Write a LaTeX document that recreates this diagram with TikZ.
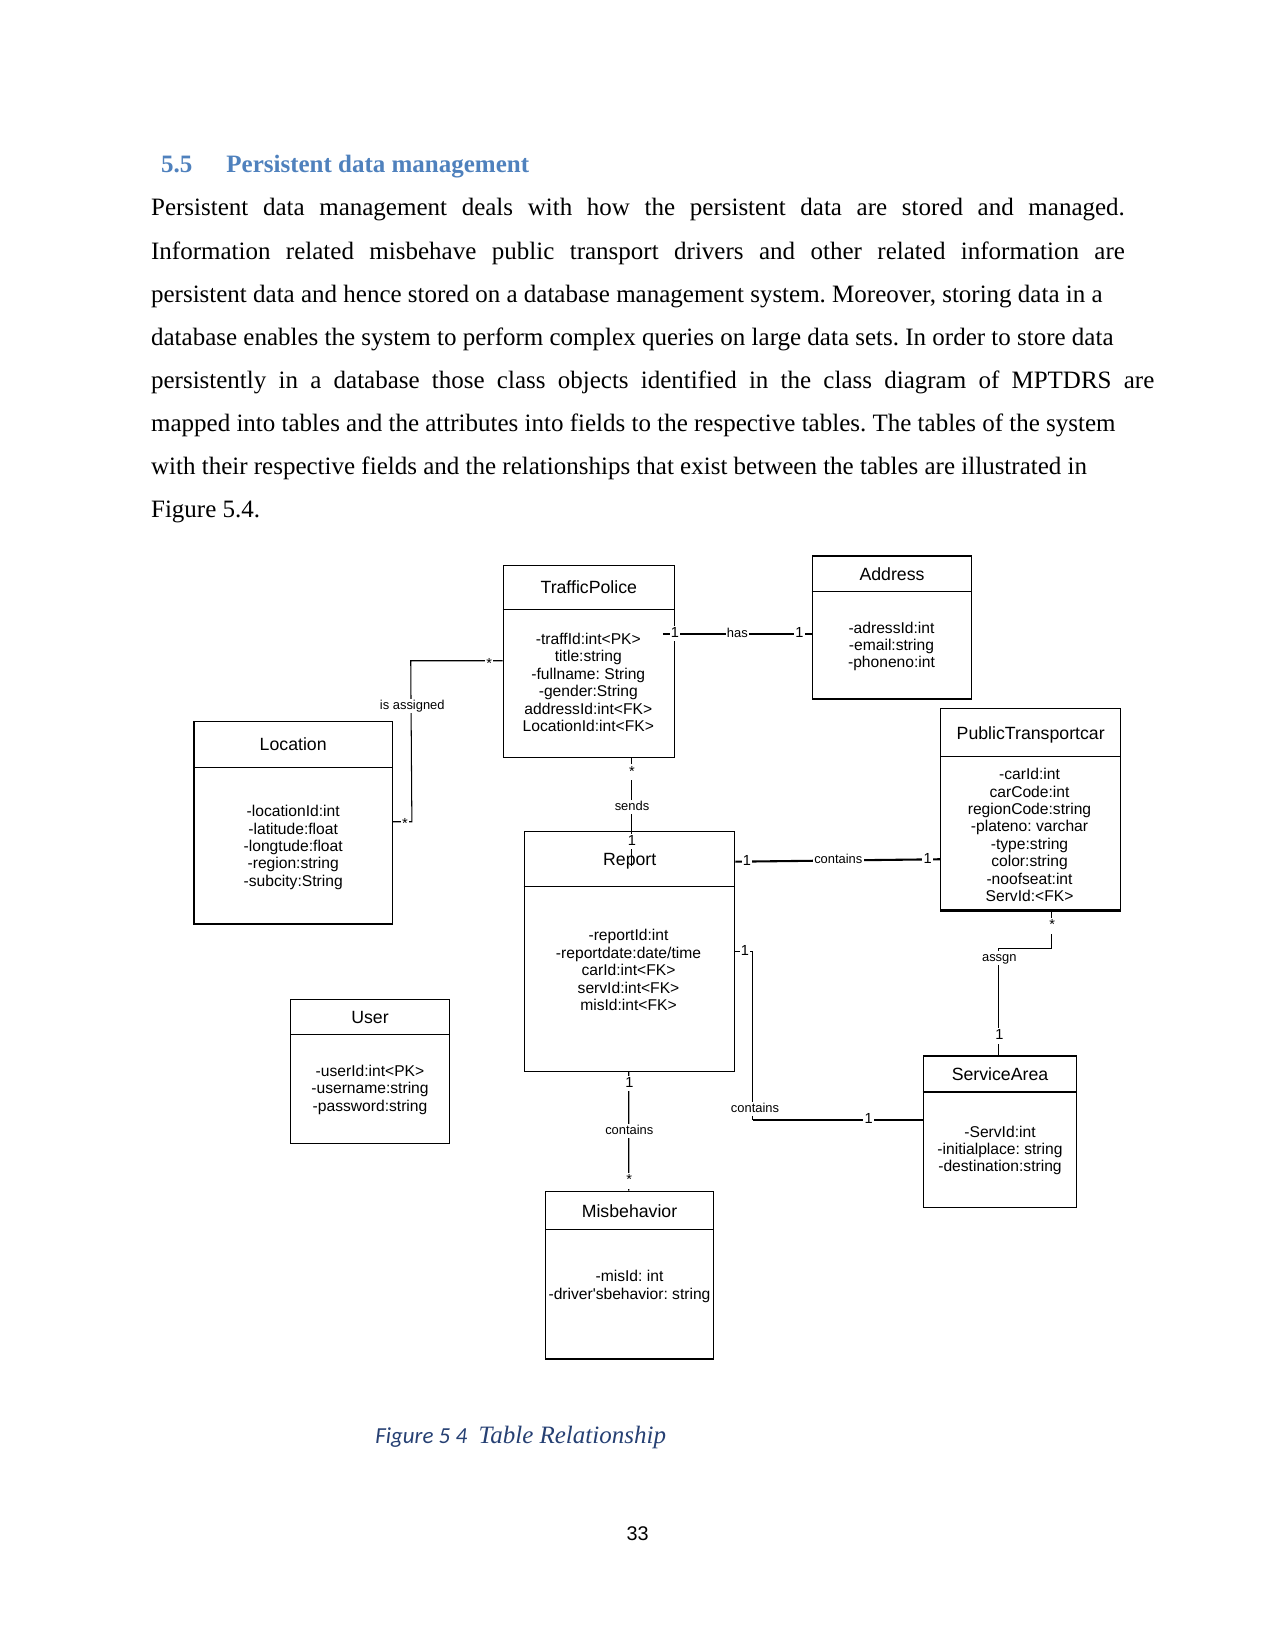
\documentclass[tikz,border=0pt]{standalone}
\usepackage{fontspec}
\setmainfont{Liberation Serif}
\newfontfamily\diag{Liberation Sans}
\newfontfamily\capfont{Carlito}
\usetikzlibrary{calc,fit}
\definecolor{headblue}{RGB}{79,129,189}
\definecolor{capblue}{RGB}{38,64,115}
\frenchspacing
\begin{document}
\begin{tikzpicture}[x=0.48pt,y=-0.48pt,
  cls/.style={draw, line width=0.55pt, inner sep=0pt},
  sep/.style={line width=0.55pt},
  ttl/.style={font=\diag\fontsize{8.5}{10}\selectfont, inner sep=0pt, text height=6.1pt, text depth=0pt},
  attr/.style={font=\diag\fontsize{7.5}{9}\selectfont, inner sep=0pt, text height=5.4pt, text depth=0pt},
  lab/.style={font=\diag\fontsize{6.2}{7}\selectfont, fill=white, inner sep=0.6pt, text height=4.5pt, text depth=1.2pt},
  mult/.style={lab, font=\diag\fontsize{7}{8}\selectfont, text height=5pt},
  star/.style={mult, yshift=-2pt},
  conn/.style={line width=0.5pt},
  connb/.style={line width=1pt},
  body/.style={font=\frenchspacing\fontsize{12}{14}\selectfont, inner sep=0pt, anchor=base west},
  head/.style={font=\bfseries\fontsize{12}{14}\selectfont, text=headblue, inner sep=0pt, anchor=base west}
]
\fill[white] (0,0) rectangle (1275,1651);
\useasboundingbox (0,0) rectangle (1275,1651);

% ---------- text ----------
\node[head] (h1) at (160.7,172.7) {5.5};
\node[head] (h2) at (226,172.7) {Persistent data management};

\node[body] (p1) at (150.7,216) {\makebox[467.4pt][s]{Persistent data management deals with how the persistent data are stored and managed.}};
\node[body] (p2) at (150.7,259.1) {\makebox[467.4pt][s]{Information related misbehave public transport drivers and other related information are}};
\node[body] (p3) at (150.7,302.2) {persistent data and hence stored on a database management system. Moreover, storing data in a};
\node[body] (p4) at (150.7,345.3) {database enables the system to perform complex queries on large data sets. In order to store data};
\node[body] (p5) at (150.7,388.4) {\makebox[481.5pt][s]{persistently in a database those class objects identified in the class diagram of MPTDRS are}};
\node[body] (p6) at (150.7,431.5) {mapped into tables and the attributes into fields to the respective tables. The tables of the system};
\node[body] (p7) at (150.7,474.6) {with their respective fields and the relationships that exist between the tables are illustrated in};
\node[body] (p8) at (150.7,517.7) {Figure 5.4.};

% ---------- class boxes ----------
\node[cls, fit={(194,721.7) (392.3,924)}] (loc) {};
\node[cls, fit={(503.3,565.3) (674.3,757.3)}] (tp) {};
\node[cls, fit={(812.3,556) (971.7,699)}] (addr) {};
\node[cls, fit={(940.7,708.3) (1120.7,910)}] (ptc) {};
\node[cls, fit={(524.3,831.3) (734.7,1071.3)}] (rep) {};
\node[cls, fit={(290.7,999.3) (449.3,1143.3)}] (usr) {};
\node[cls, fit={(545.7,1191.3) (713.3,1359)}] (mis) {};
\node[cls, fit={(923.3,1056) (1076.7,1207.3)}] (sa) {};

\draw[sep] ($(loc.north west)+(0,46.6)$) -- ($(loc.north east)+(0,46.6)$);
\draw[sep] ($(tp.north west)+(0,45)$) -- ($(tp.north east)+(0,45)$);
\draw[sep] ($(addr.north west)+(0,36.3)$) -- ($(addr.north east)+(0,36.3)$);
\draw[sep] ($(ptc.north west)+(0,49)$) -- ($(ptc.north east)+(0,49)$);
\draw[line width=1pt] (ptc.south west) -- (ptc.south east);
\draw[sep] ($(rep.north west)+(0,56)$) -- ($(rep.north east)+(0,56)$);
\draw[sep] ($(usr.north west)+(0,36)$) -- ($(usr.north east)+(0,36)$);
\draw[sep] ($(mis.north west)+(0,39)$) -- ($(mis.north east)+(0,39)$);
\draw[line width=1pt] ($(sa.north west)+(0,36.7)$) -- ($(sa.north east)+(0,36.7)$);

% titles
\node[ttl] (loct) at (293.2,744) {Location};
\node[ttl] (tpt) at (588.8,586.7) {TrafficPolice};
\node[ttl] (addrt) at (892,574) {Address};
\node[ttl] (ptct) at (1030.7,733.3) {PublicTransportcar};
\node[ttl] (usrt) at (370,1016.7) {User};
\node[ttl] (mist) at (629.5,1210.7) {Misbehavior};
\node[ttl] (sat) at (1000,1074) {ServiceArea};

% attributes
\foreach \t [count=\i from 0] in {-locationId:int,-latitude:float,-longtude:float,-region:string,-subcity:String}
  \node[attr] (loca\i) at (293.2,811+17.4*\i) {\t};
\foreach \t [count=\i from 0] in {-traffId:int<PK>,title:string,-fullname: String,-gender:String,addressId:int<FK>,LocationId:int<FK>}
  \node[attr] (tpa\i) at (588.3,639+17.35*\i) {\t};
\foreach \t [count=\i from 0] in {-adressId:int,-email:string,-phoneno:int}
  \node[attr] (addra\i) at (891.5,628.3+17*\i) {\t};
\foreach \t [count=\i from 0] in {-carId:int,carCode:int,regionCode:string,-plateno: varchar,-type:string,color:string,-noofseat:int,ServId:<FK>}
  \node[attr] (ptca\i) at (1029.5,774+17.4*\i) {\t};
\foreach \t [count=\i from 0] in {-reportId:int,-reportdate:date/time,carId:int<FK>,servId:int<FK>,misId:int<FK>}
  \node[attr] (repa\i) at (628.5,935+17.5*\i) {\t};
\foreach \t [count=\i from 0] in {-userId:int<PK>,-username:string,-password:string}
  \node[attr] (usra\i) at (370,1070.7+17.6*\i) {\t};
\foreach \t [count=\i from 0] in {-misId: int,-driver'sbehavior: string}
  \node[attr] (misa\i) at (629.5,1276+18.3*\i) {\t};
\foreach \t [count=\i from 0] in {-ServId:int,-initialplace: string,-destination:string}
  \node[attr] (saa\i) at (1000,1131.7+17.2*\i) {\t};

% ---------- connectors ----------
% is assigned
\draw[conn] ($(tp.north west)+(0,96)$) -- ++(-92,0) -- ($(loc.north east)+(19,100.6)$) -- ($(loc.north east)+(0,100.6)$);
\node[star] (m1) at (489.3,660) {*};
\node[star] (m2) at (405,820) {*};
\node[lab] (l1) at (412.3,705.7) {is assigned};

% has
\draw[connb] ($(tp.east)+(-12,-27.6)$) -- ($(addr.west)+(0,6.2)$);
\node[mult] (m3) at (675,633.7) {1};
\node[lab] (l2) at (737.3,633.7) {has};
\node[mult] (m4) at (799.3,633.7) {1};

% sends
\draw[conn] ($(tp.south west)+(128.7,0)$) -- ($(rep.north west)+(107.7,35)$);
\node[star] (m5) at (632,768) {*};
\node[lab] (l3) at (632,806.7) {sends};
\node[mult] (m6) at (632,841.7) {1};
\node[ttl] (rept) at (629.7,859) {Report};

% contains report - car
\draw[connb] ($(rep.east)+(0,-89.6)$) -- ($(ptc.west)+(0,50.1)$);
\node[mult] (m7) at (747,861.7) {1};
\node[lab] (l4) at (838.3,860.5) {contains};
\node[mult] (m8) at (927.7,859.5) {1};

% contains report - service area
\coordinate (c5) at ($(sa.west)+(-170,-11.65)$);
\draw[conn] ($(rep.east)+(0,0.4)$) -| (c5);
\draw[connb] (c5) -- ($(sa.west)+(0,-11.65)$);
\node[mult] (m9) at (745,951.7) {1};
\node[lab] (l5) at (755,1109) {contains};
\node[mult] (m10) at (868.6,1119.5) {1};

% contains report - misbehavior
\draw[conn] ($(rep.south west)+(105,0)$) -- ($(mis.north west)+(83.6,0)$);
\node[mult] (m11) at (629.3,1083.3) {1};
\node[lab] (l6) at (629.3,1131) {contains};
\node[star] (m12) at (629.3,1176.7) {*};

% assgn
\draw[conn] ($(ptc.south west)+(111.6,0)$) |- ($(sa.north west)+(76,-106.7)$) -- ($(sa.north west)+(76,0)$);
\node[star] (m13) at (1052.3,921.7) {*};
\node[lab] (l7) at (999.3,958.3) {assgn};
\node[mult] (m14) at (999.3,1036) {1};

% ---------- caption and page number ----------
\node[anchor=base west, inner sep=0pt, font=\capfont\itshape\fontsize{11}{13}\selectfont, text=capblue] (cap1) at (375,1443) {Figure 5 4};
\node[anchor=base west, inner sep=0pt, font=\itshape\fontsize{12}{14}\selectfont, text=capblue] (cap2) at (478.3,1443) {Table Relationship};
\node[inner sep=0pt, font=\diag\fontsize{9.5}{11}\selectfont, text height=6.8pt, text depth=0pt] (pg) at (637.7,1533.3) {33};
\end{tikzpicture}
\end{document}
